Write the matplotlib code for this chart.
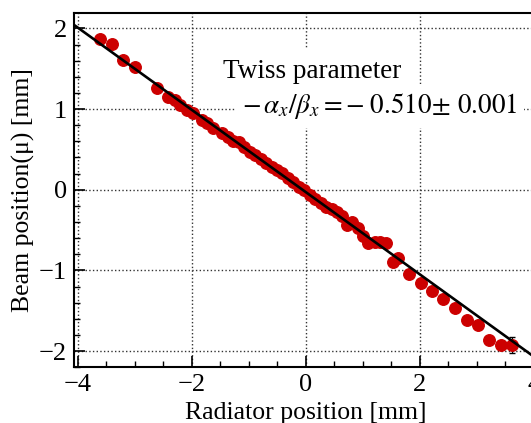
import numpy as np
import matplotlib
matplotlib.use("Agg")
import matplotlib.pyplot as plt
from matplotlib.ticker import MultipleLocator

plt.rcParams['font.family'] = ['Liberation Serif', 'DejaVu Serif']
plt.rcParams['mathtext.fontset'] = 'stix'

# radiator position [mm] vs beam position [mm]
radiator_x = [-3.61, -3.40, -3.21, -3.00, -2.61, -2.42, -2.30, -2.21, -2.09, -1.98,
              -1.82, -1.74, -1.63, -1.47, -1.37, -1.27, -1.18, -1.08, -0.98, -0.89,
              -0.79, -0.70, -0.60, -0.51, -0.41, -0.31, -0.22, -0.12, -0.03, 0.07,
              0.16, 0.26, 0.35, 0.45, 0.54, 0.63, 0.72, 0.81, 0.91, 1.00,
              1.09, 1.21, 1.30, 1.40, 1.53, 1.61, 1.81, 2.02, 2.21, 2.40,
              2.61, 2.82, 3.02, 3.21, 3.42, 3.61]
beam_y = [1.87, 1.81, 1.61, 1.52, 1.26, 1.15, 1.11, 1.05, 0.99, 0.95,
          0.86, 0.83, 0.76, 0.70, 0.66, 0.61, 0.59, 0.53, 0.47, 0.43,
          0.38, 0.33, 0.28, 0.24, 0.21, 0.14, 0.09, 0.04, 0.00, -0.06,
          -0.11, -0.16, -0.21, -0.24, -0.28, -0.33, -0.44, -0.40, -0.47, -0.57,
          -0.66, -0.65, -0.65, -0.66, -0.89, -0.85, -1.04, -1.16, -1.25, -1.35,
          -1.47, -1.62, -1.68, -1.86, -1.92, -1.92]
beam_err = [0.03] * 55 + [0.10]

# fit result
slope = -0.510
slope_err = 0.001
offset = -0.03

fig = plt.figure(figsize=(5.31, 4.23), dpi=100)
ax = fig.add_axes([0.139, 0.132, 0.874, 0.837])

ax.errorbar(radiator_x, beam_y, yerr=beam_err, fmt='o', color='#cc0000',
            ecolor='black', elinewidth=0.8, capsize=2, markersize=8.3, zorder=3)

xfit = np.array([-4.1, 4.1])
ax.plot(xfit, slope * xfit + offset, color='black', lw=1.9, zorder=4)

ax.set_xlim(-4.07, 4.07)
ax.set_ylim(-2.2, 2.19)
ax.xaxis.set_major_locator(MultipleLocator(2))
ax.xaxis.set_minor_locator(MultipleLocator(0.5))
ax.yaxis.set_major_locator(MultipleLocator(1))
ax.yaxis.set_minor_locator(MultipleLocator(0.2))
ax.tick_params(which='major', direction='in', length=8, width=1.2, labelsize=19, pad=5)
ax.tick_params(which='minor', direction='in', length=4, width=1.0)
ax.grid(True, which='major', linestyle=':', color='#333333', lw=1.0, zorder=0)
for s in ax.spines.values():
    s.set_linewidth(1.5)

ax.set_xlabel('Radiator position [mm]', fontsize=18.5, labelpad=4)
ax.set_ylabel('Beam position(\u03bc) [mm]', fontsize=18.5, labelpad=3)

ax.text(0.513, 0.836, 'Twiss parameter', transform=ax.transAxes, fontsize=19.5,
        ha='center', va='center', zorder=5,
        bbox=dict(facecolor='white', edgecolor='none', pad=7))
ax.text(0.955, 0.737,
        r'$-\,\alpha_x/\beta_x = -\;%.3f\!\pm\, %.3f$' % (-slope, slope_err),
        transform=ax.transAxes, fontsize=19.5, ha='right', va='center', zorder=5,
        bbox=dict(facecolor='white', edgecolor='none', pad=5))

fig.savefig('out.png', dpi=100)
